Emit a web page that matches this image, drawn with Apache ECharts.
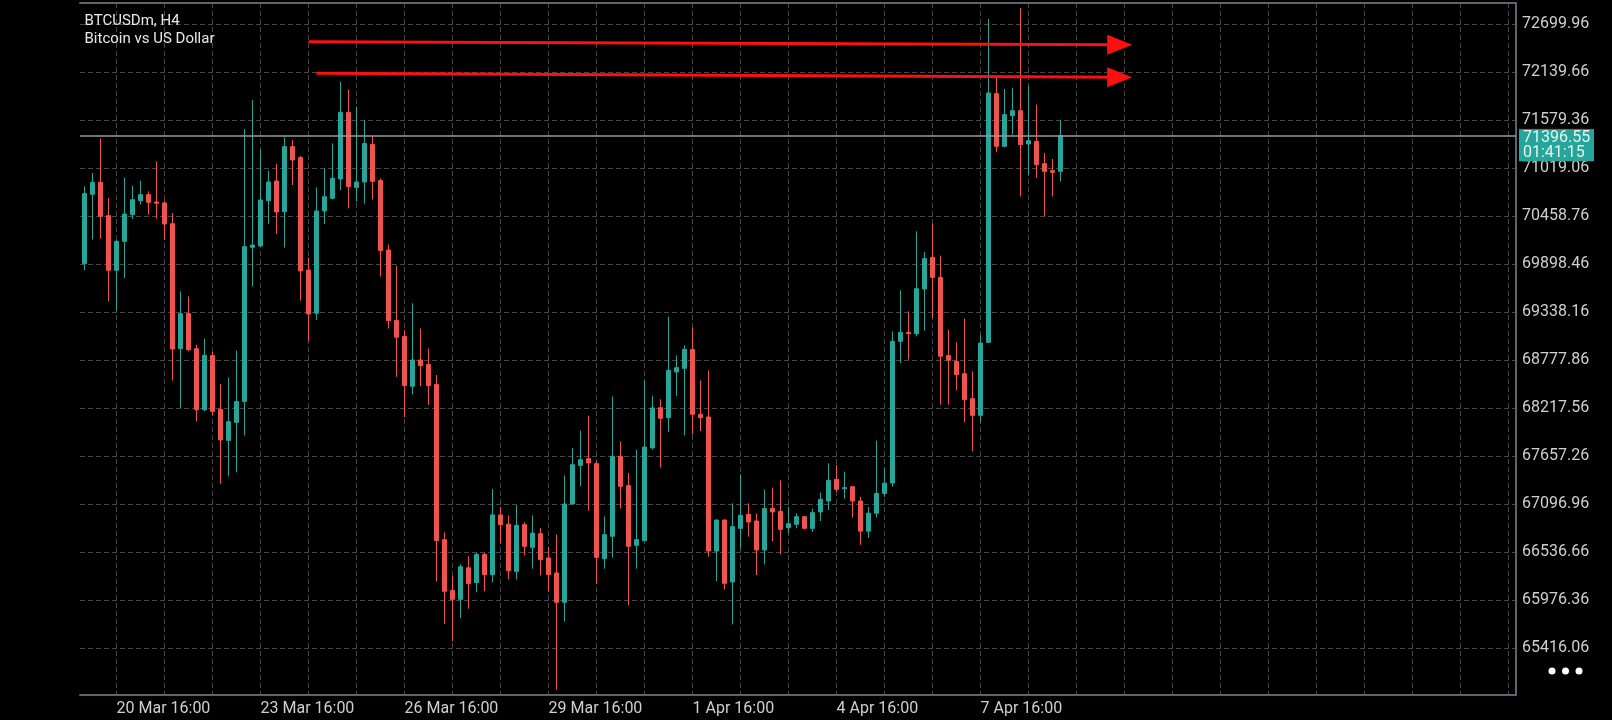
<!DOCTYPE html>
<html>
<head>
<meta charset="utf-8">
<script src="https://cdn.jsdelivr.net/npm/echarts@6/dist/echarts.min.js"></script>
<style>html,body{margin:0;padding:0;background:#000;}#c{width:1612px;height:720px;}</style>
</head>
<body>
<div id="c"></div>
<script>
// ---- data (H4 bars from 20 Mar 00:00) ----
const opens = [69902,70712,70852,70463,69825,70163,70474,70638,70708,70622,
70611,70369,68910,69319,68910,68198,68830,68202,67840,68050,
68295,70093,70109,70638,70867,70509,71268,71140,69828,69323,
70517,70665,70891,71669,70793,70855,71293,70872,70062,69240,
69052,68471,68778,68725,68491,66680,66087,65984,66352,66181,
66508,66271,66970,66862,66311,66856,66591,66751,66467,66292,
65949,67097,67548,67626,67568,66459,66720,67653,67311,66615,
66669,67752,68221,68105,68638,68681,68902,68144,68113,66548,
66910,66187,66813,66976,66899,66560,67046,67011,66821,66860,
66949,66813,67004,67132,67385,67276,67299,67132,66780,66990,
67220,67342,68996,69101,69085,69607,69976,69743,68829,68762,
68618,68326,68132,68984,71887,71272,71630,71688,71299,71330,
71070,70988,70980];
const highs = [70805,70961,71362,70669,70179,70910,70813,70871,70747,71097,
70638,70494,69579,69521,68957,69027,68871,68500,68576,68887,
71474,71813,71237,70988,71066,71377,71346,71159,69972,70793,
71015,71307,72027,71937,71735,71579,71395,70896,70127,69874,
69125,69440,69146,68913,68602,66766,66254,66393,66487,66528,
66528,67273,67060,66965,67081,66883,66965,66817,66595,66739,
67432,67751,67953,68128,67595,66953,68354,67828,67459,67731,
68541,68360,68319,69284,68832,68949,69155,68541,68657,66918,
66915,67105,67443,67105,66988,67268,67288,67373,67066,66988,
66957,67043,67229,67572,67552,67474,67307,67180,67060,67836,
67520,69112,69591,69346,70280,70039,70369,69996,69132,68984,
69260,68646,69073,72758,72097,71941,71953,72887,71980,71758,
71194,71124,71583];
const lows = [69825,70183,70194,69463,69354,69735,70424,70591,70474,70428,
70183,68537,68218,68879,68062,68179,68132,67332,67420,67467,
67895,69634,70101,70365,70249,70089,70821,69470,69000,69245,
70365,70653,70762,70548,70626,70602,70651,69751,69146,68581,
68111,68377,68471,68254,66193,65698,65494,65763,65874,66066,
66078,66181,66639,66218,66214,66498,66342,66264,66078,64930,
65727,67097,67303,67019,66163,66342,66474,67043,65914,66342,
66661,67731,67521,67937,68358,67899,67910,67949,66482,66198,
66101,65692,66576,66716,66268,66393,66665,66509,66751,66813,
66801,66770,66899,67027,67237,67159,66937,66620,66700,66940,
67180,67300,68743,68782,69054,69120,69268,68256,68256,68424,
68050,67712,68050,68976,71202,71264,71408,70688,70941,70902,
70455,70688,70863];
const closes = [70720,70852,70455,69825,70163,70482,70649,70708,70618,70607,
70365,68906,69319,68898,68198,68832,68179,67844,68058,68292,
70101,70120,70646,70856,70506,71268,71112,69817,69315,70517,
70684,70898,71669,70801,70856,71306,70864,70054,69236,69044,
68479,68778,68712,68479,66671,66078,65984,66365,66168,66508,
66271,66970,66856,66317,66848,66603,66758,66447,66272,65949,
67097,67556,67614,67576,66474,66739,67653,67303,66603,66681,
67762,68219,68097,68657,68688,68902,68144,68105,66548,66910,
66171,66832,66965,66887,66560,67043,67004,66801,66867,66949,
66813,66996,67151,67373,67268,67288,67132,66780,66990,67220,
67340,68996,69101,69085,69610,69961,69743,68822,68775,68607,
68315,68132,68976,71895,71272,71642,71688,71291,71338,71058,
70980,70968,71396.55];

const dateLabels = ['20 Mar 16:00','23 Mar 16:00','26 Mar 16:00','29 Mar 16:00','1 Apr 16:00','4 Apr 16:00','7 Apr 16:00'];
const yTickLabels = ['65416.06','65976.36','66536.66','67096.96','67657.26','68217.56','68777.86','69338.16','69898.46','70458.76','71019.06','71579.36','72139.66','72699.96'];
const trendUpper = [[28, 72493], [129.4, 72457]];
const trendLower = [[29, 72124], [129.4, 72077]];
const symbolName = 'BTCUSDm, H4';
const symbolDesc = 'Bitcoin vs US Dollar';
const countdown = '01:41:15';

// ---- styling / layout ----
const FONT = 'Roboto';
const LABEL = '#cfcfcf';
const UP = '#26a69a', DOWN = '#ef5350';
const GRIDLINE = {color:'#474747', type:[5,3], width:1};
const BORDER = {color:'#5f636b', width:2};
const XMIN = -0.5625, XMAX = 178.9375;
const YMIN = 64867.43, YMAX = 72945.09;

const chart = echarts.init(document.getElementById('c'));

function hiddenValue(grid){
  return {gridIndex:grid,type:'value',min:0,max:1,show:false};
}
function trendSeries(pts){
  return {
    type:'line', xAxisIndex:0, yAxisIndex:0, silent:true, z:5, clip:false,
    data:[{value:pts[0], symbol:'none'},
          {value:pts[1], symbol:'triangle', symbolSize:[20,25], symbolRotate:-90}],
    lineStyle:{color:'#ff1010', width:3}, itemStyle:{color:'#ff1010'}
  };
}

const option = {
  backgroundColor:'#000',
  animation:false,
  grid:[
    {left:80, right:96, top:3, bottom:25},
    {left:80, right:96, top:24, bottom:72},
    {left:116.5, right:103.5, top:3, bottom:25}
  ],
  xAxis:[
    {gridIndex:0,type:'value',min:XMIN,max:XMAX,axisLine:{show:true,onZero:false,lineStyle:BORDER},axisTick:{show:false},axisLabel:{show:false},splitLine:{show:false}},
    {gridIndex:0,type:'value',position:'top',min:XMIN,max:XMAX,axisLine:{show:true,onZero:false,lineStyle:BORDER},axisTick:{show:false},axisLabel:{show:false},splitLine:{show:false}},
    hiddenValue(1),
    {gridIndex:2,type:'value',min:0,max:29,interval:1,
     axisLine:{show:false,onZero:false},axisTick:{show:false},
     splitLine:{show:true,lineStyle:GRIDLINE},
     axisLabel:{show:true,color:LABEL,fontFamily:FONT,fontSize:16,align:'left',margin:6,
       formatter:function(v){ return (v % 3 === 0 && dateLabels[v/3]) ? dateLabels[v/3] : ''; }}}
  ],
  yAxis:[
    {gridIndex:0,type:'value',position:'right',min:YMIN,max:YMAX,axisLine:{show:true,onZero:false,lineStyle:BORDER},axisTick:{show:false},axisLabel:{show:false},splitLine:{show:false}},
    {gridIndex:1,type:'value',position:'right',min:0,max:13,interval:1,
     axisLine:{show:false,onZero:false},axisTick:{show:false},
     splitLine:{show:true,lineStyle:GRIDLINE},
     axisLabel:{color:LABEL,fontFamily:FONT,fontSize:16,margin:6,padding:[4,0,0,0],
       formatter:function(v){ return yTickLabels[Math.round(v)] || ''; }}},
    hiddenValue(2)
  ],
  series:[
    {
      type:'candlestick', xAxisIndex:0, yAxisIndex:0, barWidth:4, silent:true,
      encode:{x:0, y:[1,2,3,4]},
      data: opens.map(function(o,i){ return [i, o, closes[i], lows[i], highs[i]]; }),
      itemStyle:{color:UP, color0:DOWN, borderColor:UP, borderColor0:DOWN, borderWidth:1},
      markLine:{silent:true, symbol:['none','none'], label:{show:false},
        lineStyle:{color:'#9a9a9a', type:'solid', width:1.5},
        data:[{yAxis: closes[closes.length-1]}]}
    },
    trendSeries(trendUpper),
    trendSeries(trendLower)
  ]
};
chart.setOption(option);

// price tag on the right axis, positioned from the axis scale
const last = closes[closes.length-1];
const p = chart.convertToPixel({xAxisIndex:0, yAxisIndex:0}, [XMAX, last]);
const px = p[0], py = p[1];
chart.setOption({graphic:[
  {type:'rect', shape:{x:px+3, y:py-6.3, width:75, height:32}, style:{fill:UP}, z:10},
  {type:'line', shape:{x1:px+3, y1:py-6.3, x2:px+78, y2:py-6.3}, style:{stroke:'#e53935', lineWidth:1}, z:11},
  {type:'text', x:px+7, y:py+2.5, z:12, style:{text:last.toFixed(2), fill:'#e6f4f2', fontFamily:FONT, fontSize:16, verticalAlign:'middle'}},
  {type:'text', x:px+7, y:py+17.5, z:12, style:{text:countdown, fill:'#e6f4f2', fontFamily:FONT, fontSize:16, verticalAlign:'middle'}},
  {type:'text', x:84.5, y:21.5, z:12, style:{text:symbolName, fill:'#e8e8e8', fontFamily:FONT, fontSize:15, verticalAlign:'middle'}},
  {type:'text', x:84.5, y:39, z:12, style:{text:symbolDesc, fill:'#e8e8e8', fontFamily:FONT, fontSize:15, verticalAlign:'middle'}},
  {type:'circle', shape:{cx:1552, cy:671, r:3.5}, style:{fill:'#ffffff'}},
  {type:'circle', shape:{cx:1565.5, cy:671, r:3.5}, style:{fill:'#ffffff'}},
  {type:'circle', shape:{cx:1579, cy:671, r:3.5}, style:{fill:'#ffffff'}}
]});
</script>
</body>
</html>
